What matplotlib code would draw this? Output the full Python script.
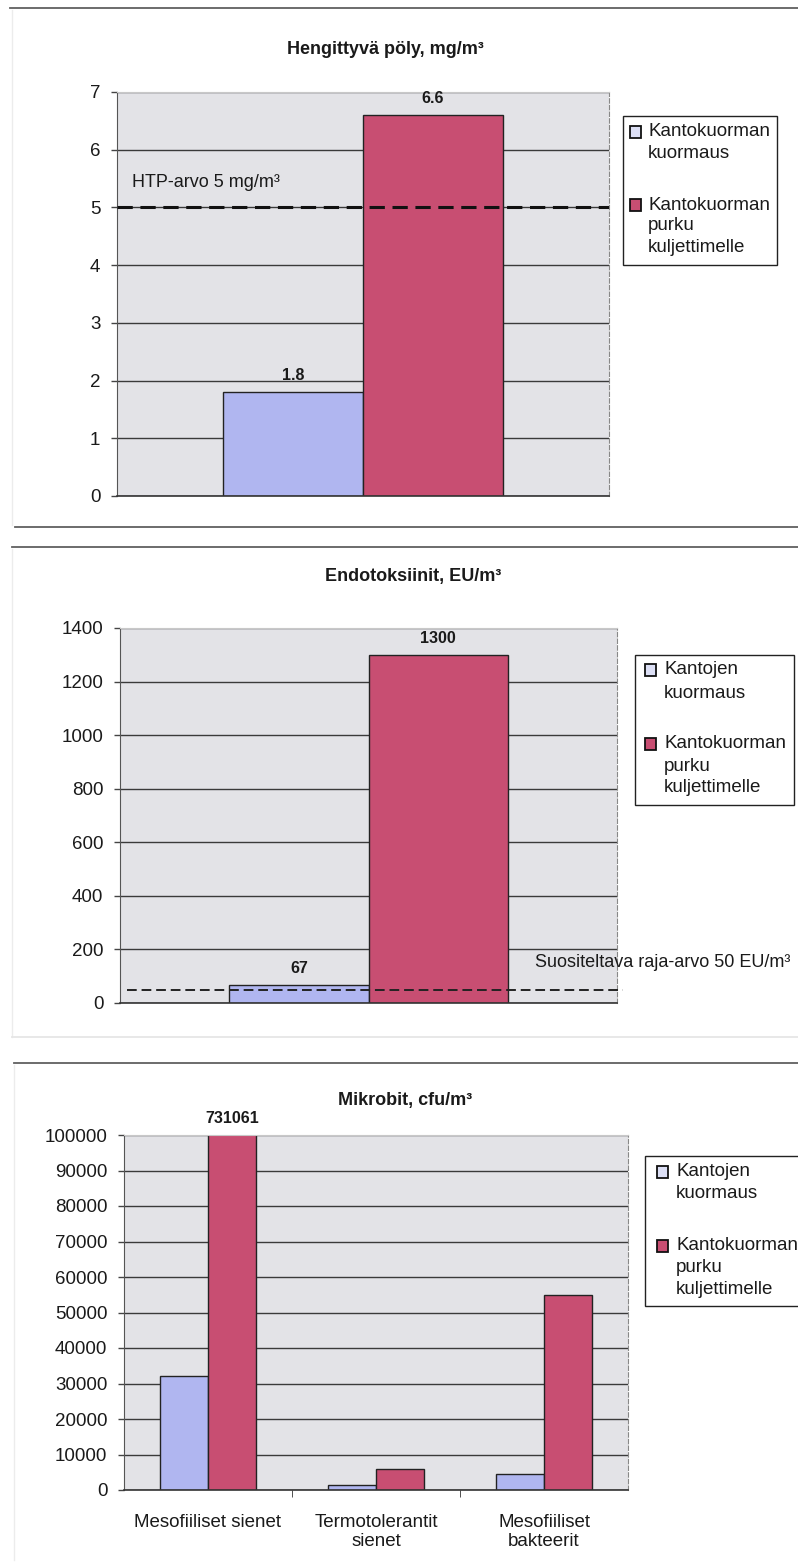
import matplotlib
matplotlib.use('Agg')
import matplotlib.pyplot as plt
from matplotlib.lines import Line2D
from matplotlib.patches import Rectangle

plt.rcParams['font.family'] = ['Liberation Sans', 'DejaVu Sans']

# Data for the three panels
dust_series = ['Kantokuorman\nkuormaus', 'Kantokuorman\npurku\nkuljettimelle']
dust_values = [1.8, 6.6]
dust_limit = 5

endo_series = ['Kantojen\nkuormaus', 'Kantokuorman\npurku\nkuljettimelle']
endo_values = [67, 1300]
endo_limit = 50

micro_categories = ['Mesofiiliset sienet', 'Termotolerantit\nsienet', 'Mesofiiliset\nbakteerit']
micro_loading = [32000, 1400, 4500]
micro_unloading = [731061, 6000, 55000]
micro_series = ['Kantojen\nkuormaus', 'Kantokuorman\npurku\nkuljettimelle']

BLUE = '#b0b6f0'
RED = '#c84e72'
BG = '#e3e3e7'
GRID = '#3a3a3a'
TXT = '#1a1a1a'

W, H = 798, 1564
fig = plt.figure(figsize=(W / 100, H / 100), dpi=100)


def rect(left, right, top, bottom):
    return [left / W, 1 - bottom / H, (right - left) / W, (bottom - top) / H]


def hline(x0, x1, y, color='#606060', lw=1.3):
    fig.add_artist(Line2D([x0 / W, x1 / W], [1 - y / H, 1 - y / H],
                          transform=fig.transFigure, color=color, lw=lw))


def vline(x, y0, y1, color='#ececec', lw=1.0):
    fig.add_artist(Line2D([x / W, x / W], [1 - y0 / H, 1 - y1 / H],
                          transform=fig.transFigure, color=color, lw=lw))


def style_axes(ax, ymax, step):
    ax.set_facecolor(BG)
    ax.set_ylim(0, ymax)
    ax.set_yticks(range(0, ymax + 1, step))
    ax.yaxis.grid(True, color=GRID, lw=1.0)
    ax.set_axisbelow(True)
    ax.tick_params(axis='y', labelsize=13.5, length=4, width=1, pad=8,
                   color='#444', labelcolor=TXT)
    ax.spines['left'].set_color('#555')
    ax.spines['bottom'].set_color('#333')
    ax.spines['bottom'].set_linewidth(1.2)
    ax.spines['top'].set_color('#c8c8c8')
    ax.spines['right'].set_color('#888')
    ax.spines['right'].set_linestyle((0, (4, 2)))


def value_label(ax, x, y, text, shown_top=None):
    top = y if shown_top is None else shown_top
    ax.annotate(text, (x, top), xytext=(0, 12), textcoords='offset points',
                ha='center', va='center', fontsize=11.5, fontweight='bold',
                color=TXT, annotation_clip=False)


def legend_box(x0, x1, y0, y1, labels, colors, line_ys, tx, sq_x):
    fig.add_artist(Rectangle((x0 / W, 1 - y1 / H), (x1 - x0) / W, (y1 - y0) / H,
                             transform=fig.transFigure, facecolor='white',
                             edgecolor='#222', lw=1.0))
    for label, color, ys in zip(labels, colors, line_ys):
        fig.add_artist(Rectangle((sq_x / W, 1 - (ys[0] + 6) / H), 11 / W, 12 / H,
                                 transform=fig.transFigure, facecolor=color,
                                 edgecolor='#111', lw=1.3))
        for line, y in zip(label.split('\n'), ys):
            fig.text(tx / W, 1 - y / H, line, fontsize=13.5, ha='left',
                     va='center', color=TXT)


# separators between the panels
hline(10, 798, 8)
hline(15, 798, 527)
hline(12, 798, 547)
hline(14, 798, 1063)
vline(12, 10, 525)
vline(12, 549, 1037)
vline(14, 1065, 1560)
hline(12, 798, 1037, color='#e6e6e6')

# Panel 1: respirable dust
ax1 = fig.add_axes(rect(117, 609, 92, 496))
style_axes(ax1, 7, 1)
w1 = 0.285
ax1.set_xlim(-0.5, 0.5)
xs1 = [-w1 / 2, w1 / 2]
for x, v, c in zip(xs1, dust_values, [BLUE, RED]):
    ax1.bar(x, v, width=w1, color=c, edgecolor='#222', lw=1.0, zorder=2)
    value_label(ax1, x, v, f'{v:.1f}')
ax1.axhline(dust_limit, color='#111', lw=2.2, ls=(0, (5, 2.5)), zorder=3)
ax1.text(-0.47, dust_limit + 0.44, f'HTP-arvo {dust_limit} mg/m³', fontsize=13,
         ha='left', va='center', color=TXT)
ax1.set_xticks([])
fig.text(385 / W, 1 - 50 / H, 'Hengittyvä pöly, mg/m³', fontsize=13,
         fontweight='bold', ha='center', va='center', color=TXT)
legend_box(623, 777, 116, 265, dust_series, ['#dcdff5', RED],
           [[132, 154], [205, 226, 248]], 648, 630)

# Panel 2: endotoxins
ax2 = fig.add_axes(rect(120, 617, 628, 1003))
style_axes(ax2, 1400, 200)
w2 = 0.28
ax2.set_xlim(-0.5, 0.5)
xs2 = [-w2 / 2, w2 / 2]
for x, v, c in zip(xs2, endo_values, [BLUE, RED]):
    ax2.bar(x, v, width=w2, color=c, edgecolor='#222', lw=1.0, zorder=2)
    value_label(ax2, x, v, f'{v}')
ax2.plot([-0.486, 0.512], [endo_limit, endo_limit], color='#222', lw=1.4,
         ls=(0, (5, 2.5)), zorder=3, clip_on=False)
ax2.text(0.848, endo_limit + 100, f'Suositeltava raja-arvo {endo_limit} EU/m³',
         fontsize=13, ha='right', va='center', color=TXT)
ax2.set_xticks([])
fig.text(413 / W, 1 - 577 / H, 'Endotoksiinit, EU/m³', fontsize=13,
         fontweight='bold', ha='center', va='center', color=TXT)
legend_box(635, 794, 655, 805, endo_series, ['#dcdff5', RED],
           [[670, 693], [744, 767, 788]], 664, 645)

# Panel 3: microbes
ax3 = fig.add_axes(rect(124, 628, 1135, 1490))
style_axes(ax3, 100000, 10000)
w3 = 0.286
ax3.set_xlim(-0.5, len(micro_categories) - 0.5)
for i, (a, b) in enumerate(zip(micro_loading, micro_unloading)):
    ax3.bar(i - w3 / 2, a, width=w3, color=BLUE, edgecolor='#222', lw=1.0, zorder=2)
    ax3.bar(i + w3 / 2, b, width=w3, color=RED, edgecolor='#222', lw=1.0, zorder=2)
    if b > 100000:
        value_label(ax3, i + w3 / 2, b, f'{b}', shown_top=100000)
ax3.set_xticks(range(len(micro_categories)))
ax3.set_xticklabels(micro_categories, fontsize=13.5, color=TXT, linespacing=1.2)
ax3.tick_params(axis='x', length=0, pad=17)
ax3.set_xticks([0.5, 1.5], minor=True)
ax3.tick_params(axis='x', which='minor', length=5, color='#333')
fig.text(405 / W, 1 - 1100 / H, 'Mikrobit, cfu/m³', fontsize=13,
         fontweight='bold', ha='center', va='center', color=TXT)
legend_box(645, 802, 1156, 1306, micro_series, ['#dcdff5', RED],
           [[1172, 1194], [1246, 1268, 1290]], 676, 657)

fig.savefig('out.png', dpi=100, facecolor='white')
